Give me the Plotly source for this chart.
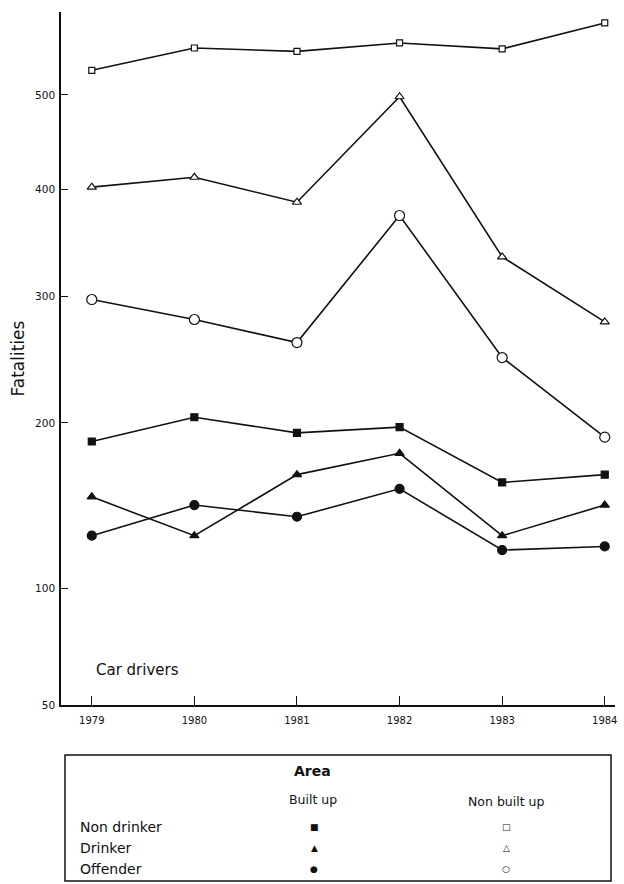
import numpy as np
import plotly.graph_objects as go

years = [1979, 1980, 1981, 1982, 1983, 1984]

# Fatalities, car drivers
nonbuilt_nondrinker = [528, 554, 550, 560, 553, 584]
nonbuilt_drinker = [402, 412, 387, 498, 335, 278]
nonbuilt_offender = [297, 280, 261, 374, 249, 190]
built_nondrinker = [187, 204, 193, 197, 160, 165]
built_drinker = [151, 128, 165, 179, 128, 146]
built_offender = [128, 146, 139, 156, 120, 122]

y_ticks = [50, 100, 200, 300, 400, 500]
y_tick_labels = ["50", "100", "200", "300", "400", "500"]
x_tick_labels = ["1979", "1980", "1981", "1982", "1983", "1984"]

FONT = "DejaVu Sans, Liberation Sans, Arial, sans-serif"
INK = "#111111"

# (name, values, symbol, size, filled)
series = [
    ("Non drinker, Non built up", nonbuilt_nondrinker, "square", 6, False),
    ("Drinker, Non built up", nonbuilt_drinker, "triangle-up", 8, False),
    ("Offender, Non built up", nonbuilt_offender, "circle", 10, False),
    ("Non drinker, Built up", built_nondrinker, "square", 7, True),
    ("Drinker, Built up", built_drinker, "triangle-up", 8, True),
    ("Offender, Built up", built_offender, "circle", 9, True),
]

fig = go.Figure()
for name, vals, sym, size, filled in series:
    fig.add_trace(go.Scatter(
        x=years, y=np.sqrt(vals), name=name, mode="lines+markers",
        line=dict(color=INK, width=1.6),
        marker=dict(symbol=sym, size=size, color=INK if filled else "white",
                    line=dict(color=INK, width=1.2)),
        showlegend=False, cliponaxis=False,
    ))

fig.update_layout(
    width=624, height=884,
    margin=dict(l=61, r=7, t=12, b=179),
    paper_bgcolor="white", plot_bgcolor="white",
    font=dict(family=FONT, color=INK),
)
fig.update_xaxes(
    range=[1978.70, 1984.10], tickvals=years, ticktext=x_tick_labels,
    ticks="inside", ticklen=9, tickcolor=INK, tickwidth=1,
    showline=True, linecolor=INK, linewidth=1.5, showgrid=False, zeroline=False,
    tickfont=dict(size=10, family=FONT), ticklabelstandoff=5,
)
fig.update_yaxes(
    range=[np.sqrt(50), 24.44], tickvals=np.sqrt(y_ticks), ticktext=y_tick_labels,
    ticks="inside", ticklen=7, tickcolor=INK, tickwidth=1,
    showline=True, linecolor=INK, linewidth=1.5, showgrid=False, zeroline=False,
    tickfont=dict(size=10.5, family=FONT), ticklabelstandoff=2,
    title=dict(text="Fatalities", font=dict(size=17, family=FONT), standoff=6),
)

fig.add_annotation(text="Car drivers", xref="paper", yref="paper", x=0.06, y=0.051,
                   xanchor="left", yanchor="middle", showarrow=False,
                   font=dict(size=15, family=FONT))

# Legend box (drawn as shapes/annotations), positions in reference pixels
def py(Y):
    return (705 - Y) / 693.0

def px(X):
    return (X - 61) / 556.0

fig.add_shape(type="rect", xref="paper", yref="paper",
              x0=px(65), x1=px(613), y0=py(881), y1=py(755),
              line=dict(color=INK, width=1.5), fillcolor="white")

fig.add_annotation(text="<b>Area</b>", xref="paper", yref="paper", x=px(313), y=py(771),
                   showarrow=False, font=dict(size=14, family=FONT), xanchor="center", yanchor="middle")
fig.add_annotation(text="Built up", xref="paper", yref="paper", x=px(314), y=py(799),
                   showarrow=False, font=dict(size=12.5, family=FONT), xanchor="center", yanchor="middle")
fig.add_annotation(text="Non built up", xref="paper", yref="paper", x=px(508), y=py(801),
                   showarrow=False, font=dict(size=12.5, family=FONT), xanchor="center", yanchor="middle")

rows = ["Non drinker", "Drinker", "Offender"]
built_sym = ["■", "▲", "●"]
nonbuilt_sym = ["□", "△", "○"]
row_y = [827, 848, 869]
for lab, bs, ns, yy in zip(rows, built_sym, nonbuilt_sym, row_y):
    fig.add_annotation(text=lab, xref="paper", yref="paper", x=px(78), y=py(yy),
                       showarrow=False, font=dict(size=14, family=FONT), xanchor="left", yanchor="middle")
    fig.add_annotation(text=bs, xref="paper", yref="paper", x=px(315), y=py(yy),
                       showarrow=False, font=dict(size=9, family="DejaVu Sans", color=INK),
                       xanchor="center", yanchor="middle")
    fig.add_annotation(text=ns, xref="paper", yref="paper", x=px(508), y=py(yy),
                       showarrow=False, font=dict(size=9, family="DejaVu Sans", color=INK),
                       xanchor="center", yanchor="middle")

fig.write_html(
    "out.html",
    config={"displayModeBar": False},
    post_script="document.body.style.margin='0';document.body.style.overflow='hidden';",
)
